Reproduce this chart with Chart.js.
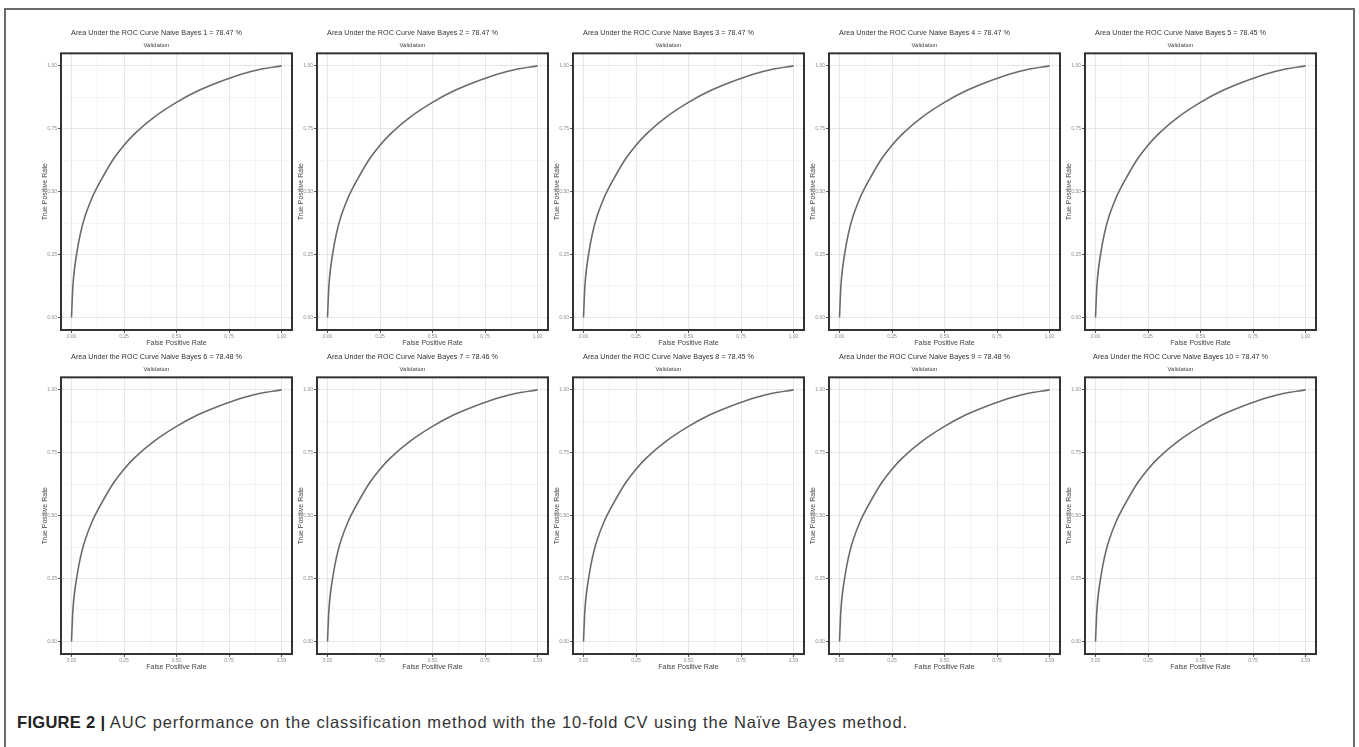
<!DOCTYPE html>
<html>
<head>
<meta charset="utf-8">
<script src="https://cdn.jsdelivr.net/npm/chart.js@4.4.1/dist/chart.umd.min.js"></script>
<style>
  body { margin: 0; background: #fff; width: 1359px; height: 747px; overflow: hidden; position: relative; }
  #frame { position: absolute; left: 4px; top: 8px; width: 1347px; height: 760px; border: 2px solid #6a6a6a; border-bottom: none; }
  canvas { position: absolute; }
  #caption { position: absolute; left: 17px; top: 713px; font-family: "Liberation Sans", Arial, sans-serif; font-size: 16.5px; letter-spacing: 0.85px; color: #333; white-space: nowrap; }
  #caption b { color: #222; font-weight: 700; letter-spacing: 0.3px; }
</style>
</head>
<body>
<div id="frame"></div>
<div id="caption"><b>FIGURE 2 |</b> AUC performance on the classification method with the 10-fold CV using the Naïve Bayes method.</div>
<script>
// AUC (%) per fold
const folds = [1, 2, 3, 4, 5, 6, 7, 8, 9, 10];
const aucValues = ['78.47', '78.47', '78.47', '78.47', '78.45', '78.48', '78.46', '78.45', '78.48', '78.47'];

// ROC curve (all ten folds look the same)
const fpr = [0, 0.005, 0.01, 0.024, 0.05, 0.095, 0.15, 0.2, 0.25, 0.3, 0.4, 0.5, 0.6, 0.7, 0.8, 0.9, 1];
const tpr = [0, 0.1, 0.16, 0.25, 0.36, 0.47, 0.56, 0.63, 0.685, 0.73, 0.8, 0.855, 0.9, 0.935, 0.965, 0.987, 1];

const tickLabels = ['0.00', '0.25', '0.50', '0.75', '1.00'];

const fontFam = '"Liberation Sans", Arial, sans-serif';

function isMajor(v) {
    return Math.abs(v * 4 - Math.round(v * 4)) < 1e-9;
}

// draws the dark box round the plot area
const panelBox = {
    id: 'panelBox',
    afterDraw(chart) {
        const a = chart.chartArea;
        const c = chart.ctx;
        c.save();
        c.strokeStyle = '#333';
        c.lineWidth = 2;
        c.strokeRect(a.left, a.top, a.right - a.left, a.bottom - a.top);
        c.restore();
    }
};

function axis(titleText, isX) {
    return {
        type: 'linear',
        min: -0.05,
        max: 1.05,
        ticks: {
            stepSize: 0.125,
            includeBounds: false,
            autoSkip: false,
            maxRotation: 0,
            padding: 1,
            color: '#8a8a8a',
            font: { family: fontFam, size: 5 },
            callback: function(v) {
                return isMajor(v) ? tickLabels[Math.round(v * 4)] : '';
            }
        },
        grid: {
            drawTicks: true,
            tickLength: 3,
            color: ctx => isMajor(ctx.tick.value) ? '#e6e6e6' : '#f4f4f4',
            tickColor: ctx => isMajor(ctx.tick.value) ? '#555' : 'rgba(0,0,0,0)',
            lineWidth: 1
        },
        border: { display: false },
        title: {
            display: true,
            text: titleText,
            color: '#444',
            font: { family: fontFam, size: 7 },
            padding: isX ? { top: 0, bottom: 0.8 } : { top: 19.8, bottom: 0 }
        },
        afterFit: function(scale) {
            if (isX) scale.height = 18;
            else scale.width = 40;
        }
    };
}

const rowTops = [54, 378];
const plotW = 231;
const plotH = 276;

folds.forEach(function(k, idx) {
    const col = idx % 5;
    const row = Math.floor(idx / 5);
    const plotLeft = 61 + 256 * col;
    const plotTop = rowTops[row];

    const canvas = document.createElement('canvas');
    const w = 40 + plotW + 2;
    const h = 30 + plotH + 18 + 1;
    canvas.width = w;
    canvas.height = h;
    canvas.style.left = (plotLeft - 40) + 'px';
    canvas.style.top = (plotTop - 30) + 'px';
    canvas.style.width = w + 'px';
    canvas.style.height = h + 'px';
    document.body.appendChild(canvas);

    new Chart(canvas.getContext('2d'), {
        type: 'scatter',
        data: {
            datasets: [{
                label: 'Fold ' + k,
                data: fpr.map((x, j) => ({ x: x, y: tpr[j] })),
                showLine: true,
                borderColor: '#6a6a6a',
                borderWidth: 1.6,
                pointRadius: 0,
                cubicInterpolationMode: 'monotone',
                fill: false
            }]
        },
        options: {
            responsive: false,
            animation: false,
            devicePixelRatio: 1,
            layout: { padding: { top: 5.2, right: 2, bottom: 1, left: 0 } },
            plugins: {
                legend: { display: false },
                tooltip: { enabled: false },
                title: {
                    display: true,
                    text: 'Area Under the ROC Curve Naive Bayes ' + k + ' = ' + aucValues[idx] + ' %',
                    color: '#333',
                    font: { family: fontFam, size: 7.2, weight: 'normal' },
                    padding: { top: 0, bottom: 3.9 }
                },
                subtitle: {
                    display: true,
                    text: 'Validation',
                    color: '#444',
                    font: { family: fontFam, size: 6 },
                    padding: { top: 0, bottom: 4.4 }
                }
            },
            scales: {
                x: axis('False Positive Rate', true),
                y: axis('True Positive Rate', false)
            }
        },
        plugins: [panelBox]
    });
});
</script>
</body>
</html>
